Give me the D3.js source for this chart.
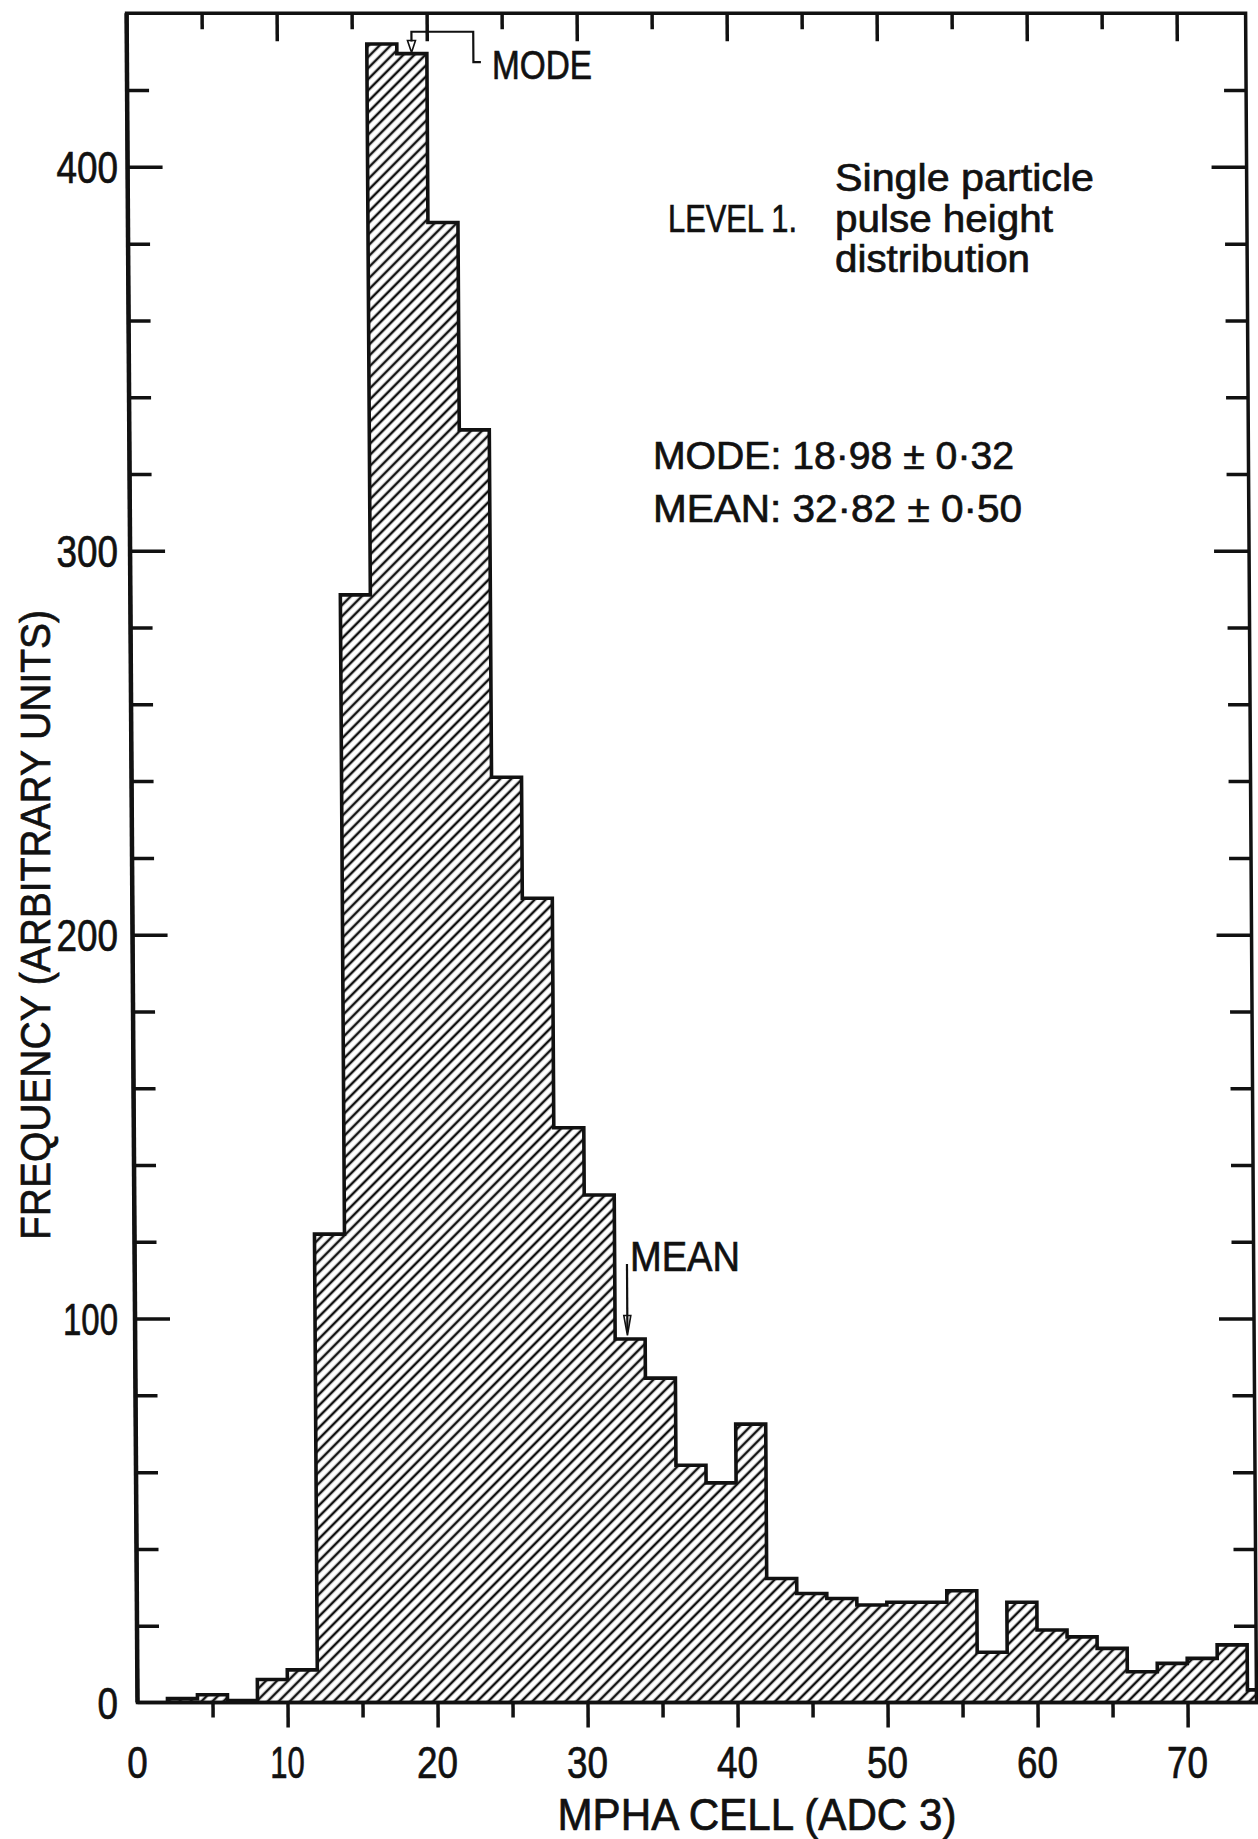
<!DOCTYPE html>
<html>
<head>
<meta charset="utf-8">
<script src="https://cdn.jsdelivr.net/npm/d3@7/dist/d3.min.js"></script>
<style>
  body { margin: 0; background: #fff; }
  svg { display: block; }
  text { font-family: "Liberation Sans", Arial, sans-serif; fill: #111; stroke: #111; stroke-width: 0.7; }
  .frame { stroke: #111; stroke-width: 3.5; fill: none; }
  .tick line { stroke: #111; stroke-width: 3.5; }
  .hist { fill: url(#hatch); stroke: #111; stroke-width: 3.6; }
  .note { stroke: #111; stroke-width: 2.2; fill: none; }
</style>
</head>
<body>
<svg></svg>
<script>
// MPHA cells, 2 channels wide each, and the counts
var cellStart = [0, 2, 4, 6, 8, 10, 12, 14, 16, 18, 20, 22, 24, 26, 28, 30, 32, 34, 36,
                 38, 40, 42, 44, 46, 48, 50, 52, 54, 56, 58, 60, 62, 64, 66, 68, 70, 72, 74];
var frequency = [0, 1, 2, 0.5, 6, 8.5, 122, 288.5, 432, 429.5, 385.5, 331.5, 241, 209.5, 149.7, 132.2, 94.7, 84.5, 61.8,
                 57.2, 72.5, 32.3, 28.4, 27.1, 25.4, 26.1, 26.1, 29.1, 13.1, 26.1, 18.9, 17.1, 14.1, 8, 10.2, 11.5, 15, 3.3];
var cellWidth = 2;

var xTickLabels = [0, 10, 20, 30, 40, 50, 60, 70];
var yTickLabels = [0, 100, 200, 300, 400];

var modeValue = 18.98;
var meanValue = 32.82;
var statLines = ["MODE: 18\u00b798 \u00b1 0\u00b732", "MEAN: 32\u00b782 \u00b1 0\u00b750"];

var width = 1258, height = 1839;

var svg = d3.select("svg").attr("width", width).attr("height", height);

var x = d3.scaleLinear().domain([0, 74.6]).range([137.5, 1256.5]);
var y = d3.scaleLinear().domain([0, 440]).range([1702.5, 13.3]);

// the stencil lettering is narrow, so squeeze the numbers to its width
function digitWidth(s) {
  return String(s).split("").reduce((w, c) => w + (c == "1" ? 14 : 20.5), 0);
}

// diagonal hatching
svg.append("defs").append("pattern")
  .attr("id", "hatch")
  .attr("patternUnits", "userSpaceOnUse")
  .attr("width", 7.8).attr("height", 10)
  .attr("patternTransform", "rotate(45)")
  .append("line")
  .attr("x1", 3.9).attr("y1", -1).attr("x2", 3.9).attr("y2", 11)
  .attr("stroke", "#111").attr("stroke-width", 2.5);

// the original drawing leans a little, so shear the plot about the baseline
var plot = svg.append("g")
  .attr("transform", "translate(0," + y(0) + ") skewX(0.37) translate(0," + (-y(0)) + ")");

// histogram as one stepped outline
var pts = cellStart.map((c, i) => [c, frequency[i]]);
pts.push([cellStart[cellStart.length - 1] + cellWidth, frequency[frequency.length - 1]]);

var area = d3.area()
  .x(d => x(d[0]))
  .y0(y(0))
  .y1(d => y(d[1]))
  .curve(d3.curveStepAfter);

plot.append("path").attr("class", "hist").attr("d", area(pts));

// ticks: majors longer than minors, all pointing into the frame except the bottom ones
var xMajor = [10, 20, 30, 40, 50, 60, 70];
var xMinor = [5, 15, 25, 35, 45, 55, 65];
var yMajor = [100, 200, 300, 400];
var yMinor = d3.range(20, 440, 20).filter(v => v % 100 != 0);

function noDomain(g) { g.select(".domain").remove(); }

plot.append("g").attr("transform", "translate(0," + y(0) + ")")
  .call(d3.axisBottom(x).tickValues(xMajor).tickSize(25).tickFormat("")).call(noDomain);
plot.append("g").attr("transform", "translate(0," + y(0) + ")")
  .call(d3.axisBottom(x).tickValues(xMinor).tickSize(15).tickFormat("")).call(noDomain);
plot.append("g").attr("transform", "translate(0," + y(440) + ")")
  .call(d3.axisBottom(x).tickValues(xMajor).tickSize(28).tickFormat("")).call(noDomain);
plot.append("g").attr("transform", "translate(0," + y(440) + ")")
  .call(d3.axisBottom(x).tickValues(xMinor).tickSize(16).tickFormat("")).call(noDomain);

plot.append("g").attr("transform", "translate(" + x(0) + ",0)")
  .call(d3.axisRight(y).tickValues(yMajor).tickSize(35).tickFormat("")).call(noDomain);
plot.append("g").attr("transform", "translate(" + x(0) + ",0)")
  .call(d3.axisRight(y).tickValues(yMinor).tickSize(22).tickFormat("")).call(noDomain);
plot.append("g").attr("transform", "translate(" + x(74.6) + ",0)")
  .call(d3.axisLeft(y).tickValues(yMajor).tickSize(35).tickFormat("")).call(noDomain);
plot.append("g").attr("transform", "translate(" + x(74.6) + ",0)")
  .call(d3.axisLeft(y).tickValues(yMinor).tickSize(22).tickFormat("")).call(noDomain);

plot.append("rect").attr("class", "frame")
  .attr("x", x(0)).attr("y", y(440))
  .attr("width", x(74.6) - x(0)).attr("height", y(0) - y(440));
plot.append("line").attr("class", "frame").style("stroke-width", 4.5)
  .attr("x1", x(0)).attr("x2", x(0)).attr("y1", y(440)).attr("y2", y(0));

// MODE bracket with open arrow head
var mx = x(modeValue), tipY = y(429.8);
plot.append("path").attr("class", "note")
  .attr("d", "M" + mx + "," + (tipY - 11) + "V" + y(435.2) + "H" + x(23.1) + "V" + y(427.3) + "H" + x(23.6));
plot.append("path").attr("class", "note").style("stroke-width", 1.6)
  .attr("d", "M" + mx + "," + tipY + "L" + (mx - 4) + "," + (tipY - 12) + "H" + (mx + 4) + "Z");

// MEAN arrow
var ax = x(meanValue), mTip = y(95.6);
plot.append("path").attr("class", "note")
  .attr("d", "M" + ax + "," + y(114.2) + "V" + (mTip - 4));
plot.append("path").attr("class", "note").style("stroke-width", 1.6)
  .attr("d", "M" + ax + "," + mTip + "L" + (ax - 3.5) + "," + (mTip - 20) + "H" + (ax + 3.5) + "Z");

// tick labels
svg.append("g").selectAll("text").data(xTickLabels).enter().append("text")
  .attr("x", d => x(d)).attr("y", 1778)
  .attr("text-anchor", "middle").style("font-size", "44px")
  .attr("textLength", d => digitWidth(d)).attr("lengthAdjust", "spacingAndGlyphs")
  .text(d => d);

svg.append("g").selectAll("text").data(yTickLabels).enter().append("text")
  .attr("x", 118).attr("y", d => y(d) + 16)
  .attr("text-anchor", "end").style("font-size", "44px")
  .attr("textLength", d => digitWidth(d)).attr("lengthAdjust", "spacingAndGlyphs")
  .text(d => d);

// axis titles
svg.append("text")
  .attr("x", 757).attr("y", 1830).attr("text-anchor", "middle")
  .attr("textLength", 399).attr("lengthAdjust", "spacingAndGlyphs")
  .style("font-size", "44px")
  .text("MPHA  CELL  (ADC 3)");

svg.append("text")
  .attr("transform", "translate(50,925) rotate(-90)").attr("text-anchor", "middle")
  .attr("textLength", 630).attr("lengthAdjust", "spacingAndGlyphs")
  .style("font-size", "42px")
  .text("FREQUENCY (ARBITRARY UNITS)");

// annotations
svg.append("text").attr("x", 492).attr("y", 79)
  .attr("textLength", 100).attr("lengthAdjust", "spacingAndGlyphs")
  .style("font-size", "40px").text("MODE");

svg.append("text").attr("x", 630).attr("y", 1271)
  .attr("textLength", 110).attr("lengthAdjust", "spacingAndGlyphs")
  .style("font-size", "42px").text("MEAN");

var blurb = [
  { t: "Single  particle", x: 835, y: 191, w: 259 },
  { t: "LEVEL 1.", x: 668, y: 232, w: 129 },
  { t: "pulse  height", x: 835, y: 232, w: 218 },
  { t: "distribution", x: 835, y: 272, w: 195 }
];
svg.append("g").selectAll("text").data(blurb).enter().append("text")
  .attr("x", d => d.x).attr("y", d => d.y)
  .attr("textLength", d => d.w).attr("lengthAdjust", "spacingAndGlyphs")
  .style("font-size", "38px")
  .text(d => d.t);

svg.append("g").selectAll("text").data(statLines).enter().append("text")
  .attr("x", 653).attr("y", (d, i) => [469, 522][i])
  .attr("textLength", (d, i) => [361, 369][i]).attr("lengthAdjust", "spacingAndGlyphs")
  .style("font-size", "39px")
  .text(d => d);
</script>
</body>
</html>
